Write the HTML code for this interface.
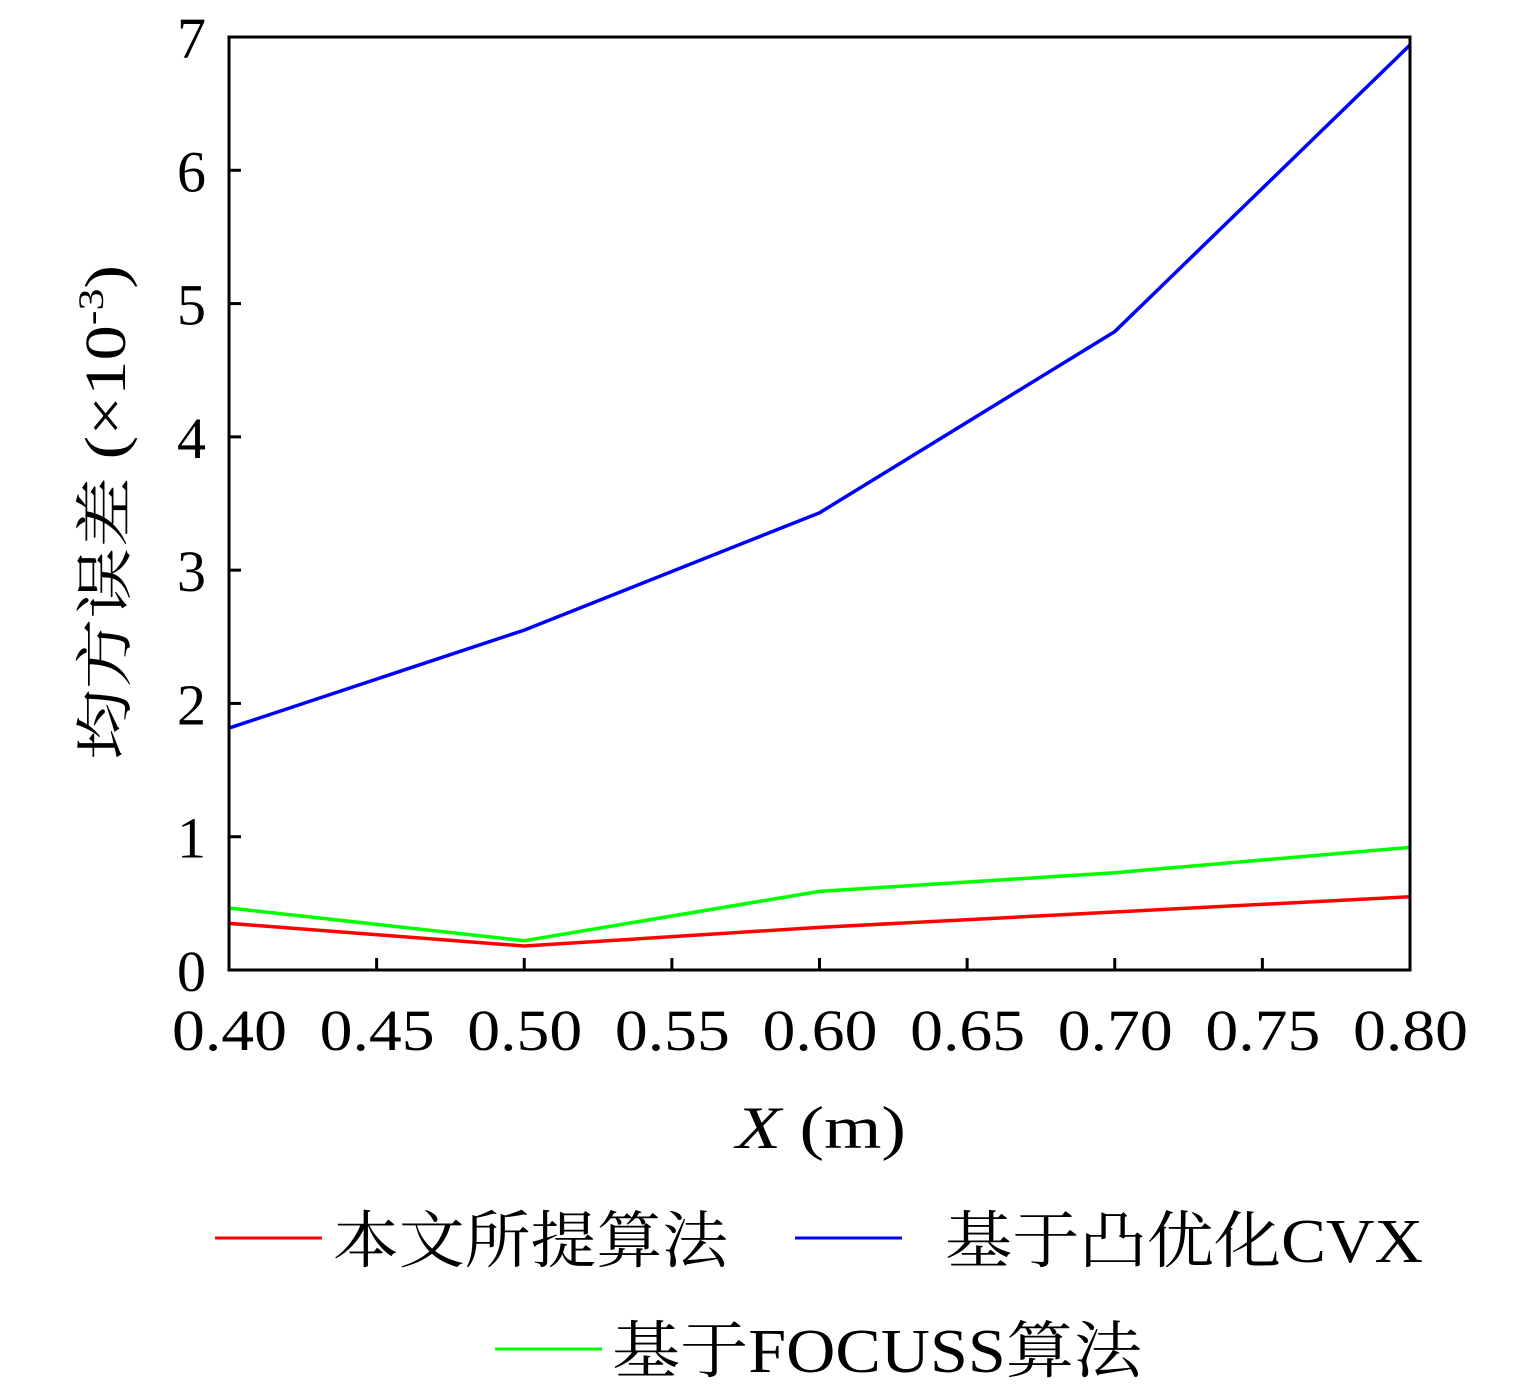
<!DOCTYPE html>
<html><head><meta charset="utf-8"><style>
body{margin:0;background:#fff;}
svg text{font-family:"Liberation Serif","Noto Serif CJK SC",serif;fill:#000;}
</style></head><body>
<svg id="chart" width="1535" height="1388" viewBox="0 0 1535 1388" xmlns="http://www.w3.org/2000/svg">
<g id="ticks"></g>
<g id="series"></g>
<rect x="229" y="37" width="1181" height="933" fill="none" stroke="#000" stroke-width="3"/>
<text x="736" y="1148" font-size="60" textLength="170" lengthAdjust="spacingAndGlyphs"><tspan font-style="italic">X</tspan> (m)</text>
<text transform="translate(125,760) rotate(-90)" font-size="58" textLength="495" lengthAdjust="spacingAndGlyphs">均方误差 (×10<tspan font-size="36" dy="-22">-3</tspan><tspan dy="22">)</tspan></text>
<g>
<line x1="215" y1="1238" x2="322" y2="1238" stroke="#f00" stroke-width="3"/>
<text x="333" y="1262" font-size="62" textLength="395" lengthAdjust="spacingAndGlyphs">本文所提算法</text>
<line x1="795" y1="1238" x2="902" y2="1238" stroke="#00f" stroke-width="3"/>
<text x="945" y="1262" font-size="62" textLength="478" lengthAdjust="spacingAndGlyphs">基于凸优化CVX</text>
<line x1="495" y1="1349" x2="602" y2="1349" stroke="#0f0" stroke-width="3"/>
<text x="612" y="1372" font-size="62" textLength="530" lengthAdjust="spacingAndGlyphs">基于FOCUSS算法</text>
</g>
</svg>
<script>
const xValues=[0.4,0.5,0.6,0.7,0.8];
const redValues=[0.35,0.18,0.32,0.435,0.55];
const blueValues=[1.815,2.55,3.43,4.79,6.94];
const greenValues=[0.465,0.22,0.59,0.73,0.92];
const xTicks=[0.40,0.45,0.50,0.55,0.60,0.65,0.70,0.75,0.80];
const yTicks=[0,1,2,3,4,5,6,7];
const L=229,R=1410,T=37,B=970;
const sx=v=>L+(v-0.4)/0.4*(R-L);
const sy=v=>B-v/7*(B-T);
const NS="http://www.w3.org/2000/svg";
const tg=document.getElementById('ticks');
function mk(tag,attrs,parent){const e=document.createElementNS(NS,tag);for(const k in attrs)e.setAttribute(k,attrs[k]);parent.appendChild(e);return e;}
xTicks.forEach(t=>{
 const l=mk('line',{x1:sx(t),x2:sx(t),y1:B,y2:B-12,stroke:'#000','stroke-width':3},tg);
 
 
 const tx=mk('text',{x:sx(t)-57,y:1050,'font-size':58,textLength:115,lengthAdjust:'spacingAndGlyphs'},tg);
 tx.textContent=t.toFixed(2);
 
 
});
yTicks.forEach(t=>{
 const l=mk('line',{x1:L,x2:L+12,y1:sy(t),y2:sy(t),stroke:'#000','stroke-width':3},tg);
 
 
 const tx=mk('text',{x:206,y:sy(t)+21,'font-size':58,'text-anchor':'end'},tg);
 tx.textContent=String(t);
 
 
});
const sg=document.getElementById('series');
[[blueValues,'#00f','series-cvx'],[greenValues,'#0f0','series-focuss'],[redValues,'#f00','series-proposed']].forEach(([vals,c,n])=>{
 const p=mk('polyline',{points:vals.map((v,i)=>sx(xValues[i])+','+sy(v)).join(' '),fill:'none',stroke:c,'stroke-width':3.5},sg);
 
 
});
</script>
</body></html>
